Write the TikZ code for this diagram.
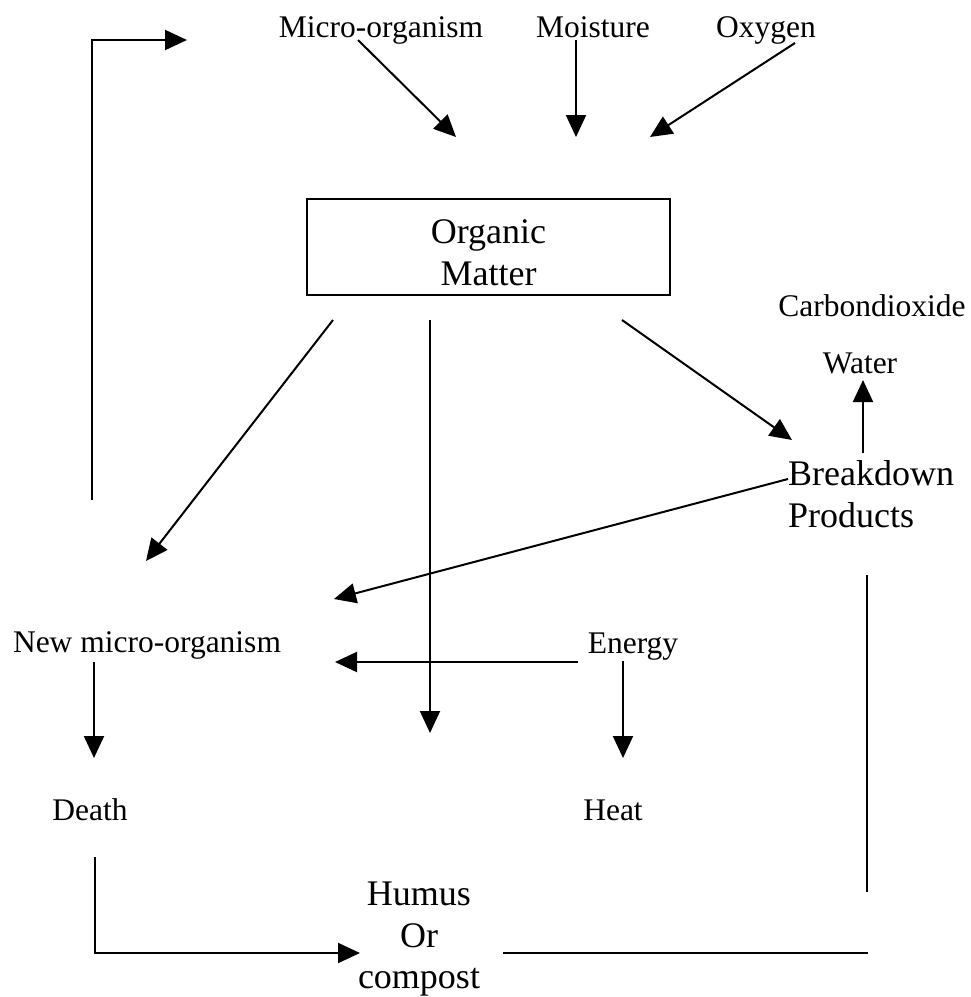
\documentclass[tikz,border=0pt]{standalone}
\usepackage{fontspec}
\setmainfont{Liberation Serif}
\usetikzlibrary{arrows.meta}
\begin{document}
\begin{tikzpicture}[x=1pt,y=-1pt,
  lbl/.style={font=\fontsize{31.5}{34}\selectfont, inner sep=0pt, anchor=base},
  big/.style={font=\fontsize{36}{42}\selectfont, inner sep=0pt, anchor=base},
  conn/.style={line width=2pt},
  arr/.style={conn,-{Triangle[length=22pt,width=20pt]}}]
\useasboundingbox (0,0) rectangle (971,997);
% texts
\node[lbl] (micro) at (381,37) {Micro-organism};
\node[lbl] (moist) at (593,37) {Moisture};
\node[lbl] (oxy) at (766,37) {Oxygen};
\node[draw, line width=2pt, minimum width=363pt, minimum height=96pt, inner sep=0pt] (om) at (488.5,247) {};
\node[big] (org) at (488.5,243) {Organic};
\node[big] (mat) at (488.5,285) {Matter};
\node[lbl] (co2) at (872,316) {Carbondioxide};
\node[lbl] (water) at (860,373) {Water};
\node[big, anchor=base west] (brk) at (788,485) {Breakdown};
\node[big, anchor=base west] (prod) at (788,527) {Products};
\node[lbl] (newm) at (147,652) {New micro-organism};
\node[lbl] (energy) at (633,653) {Energy};
\node[lbl] (death) at (90,820) {Death};
\node[lbl] (heat) at (613,820) {Heat};
\node[big] (humus) at (419,905) {Humus};
\node[big] (or) at (419,947) {Or};
\node[big] (compost) at (419,988) {compost};
% coordinates
\coordinate (a1s) at (358,40);  \coordinate (a1e) at (456,137);
\coordinate (a2s) at (576,40);  \coordinate (a2e) at (576,137);
\coordinate (a3s) at (795,43);  \coordinate (a3e) at (650,137);
\coordinate (b1s) at (333,320); \coordinate (b1e) at (146,561);
\coordinate (b2s) at (430,320); \coordinate (b2e) at (430,733);
\coordinate (b3s) at (622,320); \coordinate (b3e) at (792,440);
\coordinate (cs) at (863,453);  \coordinate (ce) at (863,380);
\coordinate (ds) at (788,479);  \coordinate (de) at (334,599);
\coordinate (es) at (578,662);  \coordinate (ee) at (335,662);
\coordinate (fs) at (94,662);   \coordinate (fe) at (94,758);
\coordinate (gs) at (623,661);  \coordinate (ge) at (623,758);
\coordinate (hs) at (95,857);   \coordinate (hc) at (95,953); \coordinate (he) at (360,953);
\coordinate (is) at (867,575);  \coordinate (ie) at (867,892);
\coordinate (js) at (503,953);  \coordinate (je) at (868,953);
\coordinate (ks) at (92,500);   \coordinate (kc) at (92,40);  \coordinate (ke) at (187,40);
% connectors
\draw[arr] (a1s) -- (a1e);
\draw[arr] (a2s) -- (a2e);
\draw[arr] (a3s) -- (a3e);
\draw[arr] (b1s) -- (b1e);
\draw[arr] (b2s) -- (b2e);
\draw[arr] (b3s) -- (b3e);
\draw[arr] (cs) -- (ce);
\draw[arr] (ds) -- (de);
\draw[arr] (es) -- (ee);
\draw[arr] (fs) -- (fe);
\draw[arr] (gs) -- (ge);
\draw[arr] (hs) -- (hc) -- (he);
\draw[conn] (is) -- (ie);
\draw[conn] (js) -- (je);
\draw[arr] (ks) -- (kc) -- (ke);
\end{tikzpicture}
\end{document}
